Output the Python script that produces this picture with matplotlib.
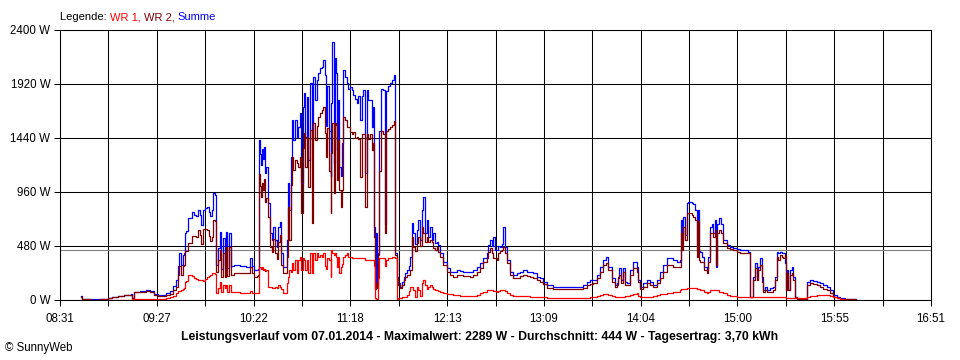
import matplotlib
matplotlib.use('Agg')
import matplotlib.pyplot as plt
import numpy as np

plt.rcParams['font.family'] = ['Liberation Sans', 'DejaVu Sans']

# time in minutes since midnight
time_min = [523.1, 523.6, 528.2, 534.0, 538.6, 540.8, 544.3, 547.7, 550.0, 551.8,
            552.3, 553.5, 556.9, 560.4, 562.7, 565.0, 567.3, 569.5, 571.8, 574.1,
            575.9, 577.6, 578.7, 579.3, 580.5, 581.6, 582.2, 582.8, 583.3, 584.5,
            585.6, 586.8, 587.9, 589.1, 590.2, 591.4, 591.9, 593.1, 594.2, 595.4,
            596.5, 597.1, 598.2, 598.8, 600.0, 600.5, 601.7, 602.8, 603.7, 604.6,
            605.7, 606.3, 607.1, 608.0, 609.2, 610.9, 614.3, 617.8, 620.1, 621.2,
            622.4, 624.1, 624.7, 625.2, 625.8, 626.4, 627.0, 627.5, 628.1, 628.7,
            629.5, 630.4, 631.5, 632.7, 633.4, 634.4, 635.3, 636.1, 637.3, 638.1,
            639.0, 640.7, 641.1, 641.7, 642.6, 643.4, 644.2, 644.9, 645.9, 646.9,
            647.8, 648.8, 649.3, 650.3, 651.1, 651.8, 652.6, 653.5, 654.5, 655.5,
            656.4, 657.4, 658.3, 659.3, 660.2, 661.2, 662.1, 663.1, 663.7, 664.4,
            665.6, 666.4, 666.8, 667.4, 668.3, 668.9, 669.4, 670.2, 670.7, 671.3,
            672.1, 672.9, 673.6, 674.6, 675.6, 676.5, 677.5, 678.4, 679.4, 680.3,
            681.3, 682.2, 683.2, 684.2, 685.1, 685.9, 687.1, 688.0, 689.0, 689.9,
            690.7, 691.2, 691.8, 692.4, 693.0, 693.7, 694.4, 695.3, 696.4, 697.3,
            698.1, 699.3, 700.4, 701.6, 702.7, 703.3, 704.3, 705.0, 706.2, 707.3,
            708.2, 709.0, 710.2, 711.3, 711.9, 712.9, 713.8, 714.8, 715.8, 716.7,
            717.7, 718.6, 719.5, 720.5, 721.5, 722.4, 723.4, 724.4, 725.3, 726.3,
            727.2, 728.2, 729.1, 731.0, 733.0, 734.9, 736.8, 738.7, 740.6, 742.5,
            744.5, 746.4, 748.2, 750.2, 752.1, 754.0, 755.9, 756.8, 757.8, 758.8,
            759.7, 760.7, 761.7, 762.6, 763.6, 764.5, 765.5, 766.4, 767.4, 769.3,
            771.2, 773.2, 775.1, 777.0, 778.9, 780.8, 782.7, 784.6, 786.5, 788.4,
            790.4, 794.2, 798.0, 801.9, 805.6, 809.5, 811.4, 813.4, 815.2, 817.1,
            819.1, 821.0, 822.9, 824.2, 825.7, 827.7, 829.6, 830.5, 831.5, 832.0,
            833.0, 834.0, 835.3, 836.6, 838.2, 840.1, 842.0, 843.0, 843.9, 845.8,
            847.8, 849.7, 851.6, 853.5, 855.4, 857.3, 859.3, 861.2, 863.1, 865.0,
            866.9, 867.5, 868.1, 868.8, 869.8, 870.7, 871.7, 873.6, 874.6, 875.5,
            876.5, 877.1, 877.8, 878.4, 879.4, 880.7, 882.2, 883.1, 884.1, 885.1,
            886.0, 887.0, 887.6, 888.3, 889.5, 890.3, 891.8, 893.7, 895.6, 897.5,
            899.4, 901.4, 904.2, 906.1, 906.8, 907.1, 908.2, 909.0, 910.0, 910.9,
            911.9, 912.8, 913.8, 914.7, 915.7, 916.7, 918.6, 920.5, 921.4, 922.4,
            923.3, 924.3, 925.3, 926.2, 927.2, 927.7, 928.5, 929.1, 930.0, 931.0,
            931.9, 932.9, 934.1, 939.6, 940.0, 941.5, 943.4, 945.4, 947.3, 949.2,
            951.1, 953.0, 954.9, 956.9, 958.7, 961.6, 964.5, 967.9]

wr1 = [0, 0, 0, 0, 0, 2, 3, 3, 4, 4,
       5, 8, 10, 12, 12, 10, 10, 12, 18, 25,
       40, 65, 80, 80, 90, 100, 105, 160, 170, 220,
       225, 215, 195, 190, 178, 180, 175, 165, 190, 207,
       215, 225, 240, 240, 230, 62, 107, 160, 74, 133,
       110, 133, 74, 133, 74, 68, 65, 59, 80, 60,
       59, 59, 59, 296, 290, 280, 296, 270, 280, 260,
       270, 118, 118, 110, 110, 118, 110, 133, 118, 100,
       59, 59, 148, 207, 267, 250, 326, 267, 355, 237,
       355, 385, 267, 370, 355, 267, 355, 237, 415, 237,
       415, 355, 415, 385, 400, 385, 415, 300, 280, 370,
       355, 207, 444, 415, 400, 415, 385, 296, 385, 237,
       296, 320, 385, 400, 415, 385, 379, 370, 370, 370,
       370, 370, 370, 370, 370, 355, 355, 355, 355, 355,
       355, 300, 20, 10, 10, 200, 370, 370, 370, 300,
       360, 370, 370, 380, 380, 370, 10, 15, 15, 30,
       30, 30, 44, 80, 118, 118, 90, 30, 118, 90,
       40, 148, 178, 133, 100, 118, 133, 118, 100, 89,
       89, 80, 74, 59, 55, 53, 44, 44, 40, 36,
       36, 36, 40, 44, 59, 74, 89, 89, 89, 89,
       80, 80, 74, 80, 89, 89, 89, 80, 59, 44,
       36, 36, 36, 36, 33, 30, 30, 27, 27, 24,
       22, 15, 15, 15, 18, 18, 20, 22, 24, 27,
       35, 44, 53, 50, 44, 36, 30, 30, 30, 30,
       30, 30, 36, 36, 44, 53, 59, 40, 24, 27,
       30, 30, 36, 44, 50, 53, 59, 62, 68, 74,
       89, 95, 95, 98, 100, 107, 107, 110, 107, 104,
       100, 100, 95, 89, 85, 74, 59, 70, 89, 89,
       89, 89, 85, 85, 74, 70, 59, 44, 36, 36,
       30, 30, 30, 30, 30, 28, 28, 28, 27, 27,
       27, 27, 27, 27, 27, 27, 27, 30, 30, 30,
       27, 27, 27, 30, 25, 15, 15, 15, 15, 15,
       15, 15, 15, 20, 30, 36, 40, 44, 44, 44,
       44, 36, 25, 15, 6, 3, 0, 0]

wr2 = [30, 5, 4, 5, 18, 27, 32, 42, 43, 46,
       15, 67, 72, 76, 68, 45, 35, 36, 47, 55,
       85, 115, 220, 300, 220, 300, 315, 440, 440, 510,
       505, 570, 565, 560, 622, 580, 495, 635, 630, 623,
       565, 525, 560, 710, 700, 249, 353, 447, 206, 417,
       201, 474, 210, 467, 226, 243, 240, 237, 290, 240,
       208, 211, 221, 1124, 1010, 920, 1044, 980, 1080, 870,
       910, 742, 475, 423, 540, 415, 364, 517, 578, 315,
       237, 237, 385, 830, 533, 1024, 1274, 1155, 1245, 1215,
       1186, 1274, 770, 1349, 1482, 1183, 1452, 1007, 1511, 681,
       1570, 1423, 1545, 1630, 1659, 1685, 1718, 1484, 1270, 1530,
       1145, 773, 1306, 1570, 950, 1570, 1560, 1067, 1420, 978,
       830, 978, 1630, 1600, 1541, 1541, 1496, 1480, 1496, 1440,
       1452, 1430, 1096, 1480, 1480, 830, 1480, 1430, 1480, 1333,
       1400, 560, 100, 150, 110, 400, 1150, 1500, 1480, 600,
       1500, 1520, 1540, 1560, 1590, 400, 197, 135, 105, 130,
       175, 205, 220, 220, 270, 563, 474, 440, 504, 563,
       480, 652, 600, 520, 563, 520, 533, 520, 460, 444,
       470, 430, 385, 311, 252, 222, 207, 222, 225, 213,
       213, 207, 222, 252, 281, 341, 370, 430, 463, 420,
       370, 370, 355, 420, 440, 444, 470, 420, 326, 222,
       193, 193, 213, 222, 213, 207, 200, 178, 163, 140,
       110, 95, 97, 97, 95, 97, 110, 133, 140, 148,
       193, 252, 311, 326, 267, 163, 118, 133, 193, 220,
       148, 252, 133, 133, 222, 281, 252, 163, 95, 118,
       148, 133, 118, 148, 200, 252, 311, 311, 296, 290,
       296, 593, 444, 652, 530, 770, 770, 760, 741, 711,
       385, 700, 355, 341, 341, 267, 237, 341, 593, 600,
       560, 622, 311, 593, 622, 600, 504, 459, 450, 444,
       430, 420, 415, 415, 415, 25, 25, 178, 281, 178,
       267, 311, 163, 74, 89, 74, 74, 89, 178, 385,
       355, 400, 385, 370, 400, 89, 237, 89, 222, 237,
       178, 25, 6, 6, 133, 148, 140, 133, 118, 100,
       89, 62, 30, 15, 10, 6, 5, 0]

summe = [35, 5, 5, 5, 20, 30, 35, 45, 47, 50,
         20, 75, 82, 88, 80, 55, 45, 48, 65, 80,
         125, 180, 300, 420, 310, 400, 420, 600, 610, 730,
         730, 785, 760, 750, 800, 760, 670, 800, 820, 830,
         780, 750, 800, 950, 930, 311, 460, 607, 280, 550,
         311, 607, 284, 600, 300, 311, 305, 296, 370, 300,
         267, 270, 280, 1420, 1300, 1200, 1340, 1250, 1360, 1130,
         1180, 860, 593, 533, 650, 533, 474, 650, 696, 415,
         296, 296, 533, 1037, 800, 1274, 1600, 1422, 1600, 1452,
         1541, 1659, 1037, 1719, 1837, 1450, 1807, 1244, 1926, 1422,
         1985, 1778, 1960, 2015, 2059, 2070, 2133, 2000, 1550, 1900,
         1500, 1100, 1750, 2289, 1215, 2150, 2018, 1330, 1778, 1185,
         1100, 1400, 2044, 1985, 1926, 1880, 1896, 1870, 1822, 1790,
         1748, 1810, 1600, 1810, 1867, 1126, 1867, 1780, 1778, 1541,
         1720, 650, 110, 600, 130, 420, 1500, 1880, 1870, 680,
         1860, 1900, 1930, 1960, 2000, 420, 207, 150, 118, 160,
         207, 240, 267, 300, 385, 681, 593, 500, 622, 711,
         530, 800, 918, 600, 711, 560, 652, 533, 593, 504,
         520, 490, 415, 341, 281, 252, 252, 267, 260, 252,
         252, 252, 267, 296, 326, 370, 415, 490, 533, 480,
         563, 444, 444, 480, 470, 500, 652, 470, 355, 252,
         222, 237, 252, 267, 252, 252, 237, 207, 193, 163,
         133, 118, 118, 118, 118, 118, 133, 163, 178, 178,
         222, 296, 355, 379, 296, 193, 133, 148, 207, 281,
         178, 281, 163, 148, 267, 341, 296, 178, 118, 148,
         178, 163, 133, 178, 252, 311, 370, 370, 355, 340,
         355, 711, 533, 741, 580, 859, 874, 865, 850, 800,
         474, 800, 440, 430, 385, 296, 267, 385, 652, 680,
         600, 711, 296, 680, 726, 680, 533, 489, 474, 460,
         450, 444, 444, 430, 430, 30, 30, 207, 326, 207,
         296, 370, 207, 89, 118, 89, 104, 118, 207, 430,
         415, 430, 415, 415, 326, 89, 267, 89, 267, 296,
         207, 30, 6, 6, 163, 178, 170, 163, 148, 133,
         118, 89, 44, 25, 15, 9, 9, 9]

y_ticks = [0, 480, 960, 1440, 1920, 2400]
x_tick_labels = ['08:31', '09:27', '10:22', '11:18', '12:13',
                 '13:09', '14:04', '15:00', '15:55', '16:51']
t_start, t_end = 511, 1011
average_w = 444
title = ('Leistungsverlauf vom 07.01.2014 - Maximalwert: 2289 W - '
         'Durchschnitt: 444 W - Tagesertrag: 3,70 kWh')

fig = plt.figure(figsize=(9.6, 3.6), dpi=100)
fig.patch.set_facecolor('white')
ax = fig.add_axes([60 / 960, 60 / 360, 871 / 960, 270 / 360])
ax.set_xlim(t_start, t_end)
ax.set_ylim(0, 2400)

major = np.linspace(t_start, t_end, len(x_tick_labels))
minor = np.linspace(t_start, t_end, 2 * len(x_tick_labels) - 1)
ax.set_xticks(major)
ax.set_xticklabels(x_tick_labels)
ax.set_xticks(minor, minor=True)
ax.set_yticks(y_ticks)
ax.set_yticklabels([f'{v} W' for v in y_ticks])
ax.tick_params(axis='both', which='both', length=4.5, width=0.75,
               color='black', labelsize=8.3, labelcolor='black')
ax.tick_params(axis='x', which='major', pad=5)
ax.tick_params(axis='y', which='major', pad=2.5)
ax.set_axisbelow(True)
ax.grid(True, which='both', axis='x', color='black', lw=0.75)
ax.grid(True, which='major', axis='y', color='black', lw=0.75)
for s in ax.spines.values():
    s.set_linewidth(0.75)
    s.set_color('black')

ax.axhline(average_w, color='#808080', lw=0.8, zorder=1.5)
ax.plot(time_min, summe, color='#0000FF', lw=0.9, drawstyle='steps-post', zorder=2)
ax.plot(time_min, wr2, color='#800000', lw=0.9, drawstyle='steps-post', zorder=3)
ax.plot(time_min, wr1, color='#FF0000', lw=0.9, drawstyle='steps-post', zorder=4)

# legend line (multi-coloured text)
parts = [('Legende: ', 'black'), ('WR 1, ', '#FF0000'),
         ('WR 2, ', '#800000'), ('Summe', '#0000FF')]
fig.canvas.draw()
renderer = fig.canvas.get_renderer()
xpix = 60
for txt, col in parts:
    t = fig.text(xpix / 960, 1 - 17 / 360, txt, color=col, fontsize=8,
                 ha='left', va='center')
    bb = t.get_window_extent(renderer=renderer)
    xpix += bb.width

fig.text(480 / 960, 1 - 337 / 360, title, fontsize=8.8, fontweight='bold',
         ha='center', va='center')
fig.text(5 / 960, 1 - 348 / 360, '\u00a9 SunnyWeb', fontsize=8.3,
         ha='left', va='center')

fig.savefig('out.png', dpi=100, facecolor='white')
